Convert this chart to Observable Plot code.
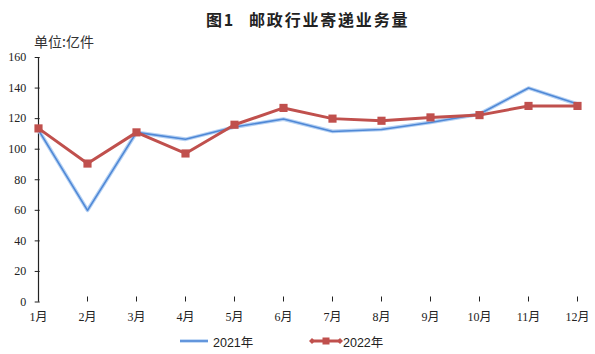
<!DOCTYPE html>
<html><head><meta charset="utf-8">
<script src="https://cdn.jsdelivr.net/npm/d3@7"></script>
<script src="https://cdn.jsdelivr.net/npm/@observablehq/plot@0.6"></script>
<style>
body{margin:0;background:#fff;}
#wrap{position:relative;width:595px;height:354px;overflow:hidden;background:#fff;font-family:"Noto Sans CJK SC",sans-serif;}
#title{position:absolute;top:7px;left:206px;font-size:16px;font-weight:bold;color:#222;letter-spacing:1.8px;white-space:nowrap;line-height:24px;}
#unit{position:absolute;top:31px;left:34px;font-size:14px;color:#333;white-space:nowrap;line-height:20px;}
#chart{position:absolute;top:50px;left:0;}
#legend{position:absolute;top:329px;left:0;width:595px;height:24px;font-family:"Liberation Sans","Noto Sans CJK SC",sans-serif;font-size:12.5px;color:#222;}
.li{position:absolute;top:0;height:24px;display:flex;align-items:center;white-space:nowrap;}
</style></head>
<body><div id="wrap">
<div id="title">图1<span style="display:inline-block;width:14px"></span>邮政行业寄递业务量</div>
<div id="unit">单位:亿件</div>
<div id="chart"></div>
<div id="legend"></div>
</div>
<script>
const months = ["1月","2月","3月","4月","5月","6月","7月","8月","9月","10月","11月","12月"];
const v2021 = [112.5, 60, 111, 106.5, 114.5, 119.7, 111.6, 112.9, 117.5, 123, 140, 129.5];
const v2022 = [113.6, 90.6, 111, 97.2, 116, 127, 120, 118.6, 120.8, 122.3, 128.3, 128.3];
const yTicks = [0, 20, 40, 60, 80, 100, 120, 140, 160];
const seriesNames = ["2021年", "2022年"];
const colors = {blue: "#4f88d6", blueHalo: "#b4d0f3", red: "#c0504d"};

const rows2021 = months.map((m, i) => ({m, v: v2021[i]}));
const rows2022 = months.map((m, i) => ({m, v: v2022[i]}));

const chart = Plot.plot({
  width: 595, height: 280,
  marginLeft: 34.7, marginRight: 15.5, marginTop: 7, marginBottom: 28.5,
  style: {fontFamily: '"Liberation Serif","Noto Sans CJK SC",serif', fontSize: "12px", color: "#222", background: "#fff"},
  x: {type: "point", domain: months, padding: 0},
  y: {domain: [0, 160]},
  marks: [
    Plot.axisY({ticks: yTicks, tickSize: -5, tickPadding: 14, label: null, stroke: "#222"}),
    Plot.axisX({tickSize: -5, tickPadding: 15, label: null, stroke: "#222"}),
    Plot.ruleY([0], {x1: months[0], x2: months[months.length - 1], stroke: "#222", strokeWidth: 1.2}),
    Plot.ruleX([months[0]], {y1: 0, y2: 160, stroke: "#222", strokeWidth: 1.2}),
    Plot.line(rows2021, {x: "m", y: "v", stroke: colors.blueHalo, strokeWidth: 3.8}),
    Plot.line(rows2021, {x: "m", y: "v", stroke: colors.blue, strokeWidth: 1.6}),
    Plot.line(rows2022, {x: "m", y: "v", stroke: colors.red, strokeWidth: 3}),
    Plot.dot(rows2022, {x: "m", y: "v", symbol: "square", r: 4.6, fill: colors.red, stroke: "none"})
  ]
});
document.getElementById("chart").appendChild(chart);

const legend = document.getElementById("legend");
legend.innerHTML = `
<div class="li" style="left:180px"><svg width="30" height="10"><line x1="0" y1="5" x2="28" y2="5" stroke="${colors.blueHalo}" stroke-width="3.5"/><line x1="0" y1="5" x2="28" y2="5" stroke="${colors.blue}" stroke-width="1.6"/></svg><span style="margin-left:3px">${seriesNames[0]}</span></div>
<div class="li" style="left:309px"><svg width="34" height="10"><line x1="2" y1="5" x2="32" y2="5" stroke="${colors.red}" stroke-width="3"/><path d="M0,5L3,2L6,5L3,8Z" fill="${colors.red}"/><path d="M28,5L31,2L34,5L31,8Z" fill="${colors.red}"/><rect x="13.5" y="1.5" width="7" height="7" fill="${colors.red}"/></svg><span style="margin-left:0px">${seriesNames[1]}</span></div>`;
</script>
</body></html>
